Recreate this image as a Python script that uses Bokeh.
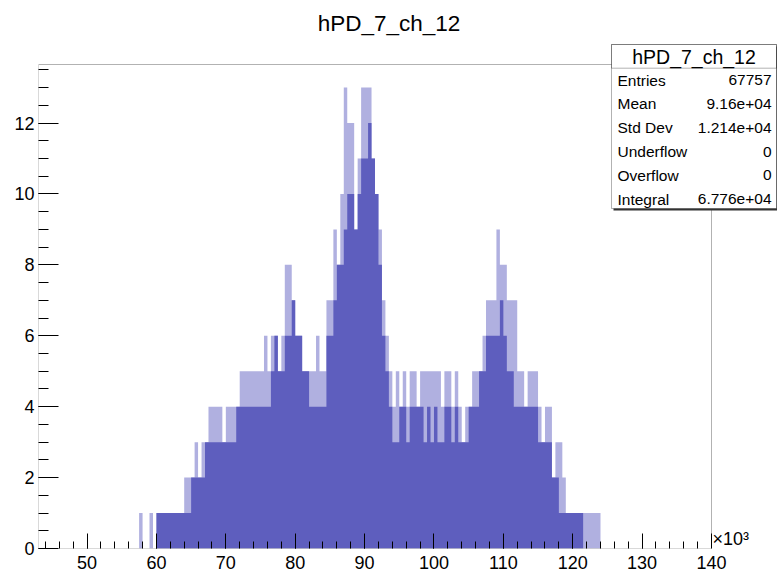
from bokeh.plotting import figure
from bokeh.models import Range1d, FixedTicker, Label, BoxAnnotation
from bokeh.embed import file_html
from bokeh.resources import INLINE

# ---------------- data (x in units of 10^3) ----------------
bin_left_k = [
    57.5, 58.0, 58.5, 59.0, 59.5, 60.0, 60.5, 61.0, 61.5, 62.0,
    62.5, 63.0, 63.5, 64.0, 64.5, 65.0, 65.5, 66.0, 66.5, 67.0,
    67.5, 68.0, 68.5, 69.0, 69.5, 70.0, 70.5, 71.0, 71.5, 72.0,
    72.5, 73.0, 73.5, 74.0, 74.5, 75.0, 75.5, 76.0, 76.5, 77.0,
    77.5, 78.0, 78.5, 79.0, 79.5, 80.0, 80.5, 81.0, 81.5, 82.0,
    82.5, 83.0, 83.5, 84.0, 84.5, 85.0, 85.5, 86.0, 86.5, 87.0,
    87.5, 88.0, 88.5, 89.0, 89.5, 90.0, 90.5, 91.0, 91.5, 92.0,
    92.5, 93.0, 93.5, 94.0, 94.5, 95.0, 95.5, 96.0, 96.5, 97.0,
    97.5, 98.0, 98.5, 99.0, 99.5, 100.0, 100.5, 101.0, 101.5, 102.0,
    102.5, 103.0, 103.5, 104.0, 104.5, 105.0, 105.5, 106.0, 106.5, 107.0,
    107.5, 108.0, 108.5, 109.0, 109.5, 110.0, 110.5, 111.0, 111.5, 112.0,
    112.5, 113.0, 113.5, 114.0, 114.5, 115.0, 115.5, 116.0, 116.5, 117.0,
    117.5, 118.0, 118.5, 119.0, 119.5, 120.0, 120.5, 121.0, 121.5, 122.0,
    122.5, 123.0, 123.5,
]
end_edge_k = 124.0

# counts reached by most bins inside each 0.5k slice (dense fill)
solid_counts = [
    0, 0, 0, 0, 0, 1, 1, 1, 1, 1,
    1, 1, 1, 1, 1, 2, 2, 2, 2, 3,
    3, 3, 3, 3, 3, 3, 3, 3, 4, 4,
    4, 4, 4, 4, 4, 4, 4, 4, 5, 6,
    5, 5, 6, 6, 7, 6, 6, 5, 5, 4,
    4, 4, 4, 4, 6, 6, 7, 8, 8, 9,
    10, 10, 9, 10, 11, 11, 12, 11, 10, 8,
    6, 5, 4, 3, 3, 4, 4, 3, 4, 4,
    4, 4, 3, 4, 3, 4, 3, 3, 4, 4,
    3, 4, 3, 3, 3, 4, 4, 4, 5, 5,
    6, 6, 6, 6, 7, 6, 5, 5, 4, 4,
    4, 4, 4, 4, 4, 3, 3, 3, 3, 2,
    2, 1, 1, 1, 1, 1, 1, 1, 0, 0,
    0, 0, 0,
]
# highest single-bin count inside each 0.5k slice (sparse spikes)
peak_counts = [
    1, 0, 0, 1, 0, 1, 1, 1, 1, 1,
    1, 1, 1, 2, 2, 2, 3, 2, 3, 3,
    4, 4, 4, 4, 3, 4, 4, 4, 4, 5,
    5, 5, 5, 5, 5, 5, 6, 5, 6, 6,
    5, 6, 8, 8, 7, 6, 6, 5, 5, 5,
    5, 6, 5, 5, 7, 7, 9, 8, 10, 13,
    12, 12, 9, 11, 13, 13, 13, 11, 10, 9,
    7, 6, 5, 4, 5, 4, 5, 4, 5, 5,
    4, 5, 5, 5, 5, 5, 5, 4, 5, 5,
    4, 5, 4, 3, 4, 4, 5, 5, 5, 6,
    7, 7, 7, 9, 8, 8, 7, 7, 7, 5,
    5, 4, 5, 5, 5, 4, 3, 4, 4, 2,
    3, 3, 2, 1, 1, 1, 1, 1, 1, 1,
    1, 1, 1,
]

x_major_ticks = [50, 60, 70, 80, 90, 100, 110, 120, 130, 140]
x_minor_ticks = [44 + 2 * i for i in range(48)]
y_major_ticks = [0, 2, 4, 6, 8, 10, 12]
y_minor_ticks = [0.5 * i for i in range(28)]

X_MIN, X_MAX = 43.0, 140.0     # histogram axis range (x10^3)
Y_MIN, Y_MAX = 0.0, 13.65

hist_title = "hPD_7_ch_12"
stat_names = ["Entries", "Mean", "Std Dev", "Underflow", "Overflow", "Integral"]
stat_values = ["67757", "9.16e+04", "1.214e+04", "0", "0", "6.776e+04"]

FONT = "Liberation Sans"

# ---------------- layout geometry (canvas pixels) ----------------
W, H = 777, 573
FL, FR, FT, FB = 38, 711, 64, 548          # histogram frame edges
kx = (FR - FL) / (X_MAX - X_MIN)             # px per x unit
ky = (FB - FT) / (Y_MAX - Y_MIN)             # px per y unit
# Bokeh frame spans the canvas from FL to the right edge and from top to FB,
# so that the title / stats box can be drawn without clipping.
x_end = X_MAX + (W - FR) / kx
y_end = Y_MAX + FT / ky

p = figure(width=W, height=H, output_backend="svg", toolbar_location=None,
           x_range=Range1d(X_MIN, x_end), y_range=Range1d(Y_MIN, y_end),
           min_border_left=FL, min_border_right=0,
           min_border_top=0, min_border_bottom=H - FB)
p.background_fill_color = "white"
p.border_fill_color = "white"
p.outline_line_color = None
p.xgrid.grid_line_color = None
p.ygrid.grid_line_color = None

xs = bin_left_k + [end_edge_k]
p.varea_step(x=xs, y1=[0] * len(xs), y2=peak_counts + [0], step_mode="after",
             fill_color="#b0b0e0", fill_alpha=1.0)
p.varea_step(x=xs, y1=[0] * len(xs), y2=solid_counts + [0], step_mode="after",
             fill_color="#5e5ebe", fill_alpha=1.0)

# histogram frame
p.add_layout(BoxAnnotation(left=X_MIN, right=X_MAX, bottom=Y_MIN, top=Y_MAX,
                           fill_alpha=0.0, line_color="black", line_width=1))

for ax in (p.xaxis[0], p.yaxis[0]):
    ax.axis_line_color = None
    ax.major_tick_line_color = "black"
    ax.minor_tick_line_color = "black"
    ax.major_tick_out = 0
    ax.minor_tick_out = 0
    ax.major_label_text_font = FONT
    ax.major_label_text_font_size = "18px"
    ax.major_label_text_color = "black"

p.xaxis.ticker = FixedTicker(ticks=x_major_ticks, minor_ticks=x_minor_ticks)
p.xaxis.major_tick_in = 15
p.xaxis.minor_tick_in = 7
p.xaxis.major_label_standoff = 7

p.yaxis.ticker = FixedTicker(ticks=y_major_ticks, minor_ticks=y_minor_ticks)
p.yaxis.major_tick_in = 20
p.yaxis.minor_tick_in = 10
p.yaxis.major_label_standoff = 4

# frame-relative screen coordinates helpers
def sx(cx):
    return cx - FL

def sy(cy):
    return FB - cy

# main title
p.add_layout(Label(x=sx(388.5), y=sy(23), x_units="screen", y_units="screen",
                   text=hist_title, text_font=FONT, text_font_size="22.5px",
                   text_align="center", text_baseline="middle", text_color="black"))

# x10^3 exponent (kept just above the frame bottom so it is not clipped)
p.add_layout(Label(x=sx(712), y=sy(538), x_units="screen", y_units="screen",
                   text="×10³", text_font=FONT, text_font_size="18px",
                   text_align="left", text_baseline="middle", text_color="black"))

# stats box (shadow + box + separator)
BL, BR, BT, BB, SEP = 611, 776, 44, 208, 67.7
p.add_layout(BoxAnnotation(left=sx(BL + 2), right=sx(BR + 2), top=sy(BT + 2), bottom=sy(BB + 2),
                           left_units="screen", right_units="screen",
                           top_units="screen", bottom_units="screen",
                           fill_color="#333333", fill_alpha=1.0, line_color=None))
p.add_layout(BoxAnnotation(left=sx(BL), right=sx(BR), top=sy(BT), bottom=sy(BB),
                           left_units="screen", right_units="screen",
                           top_units="screen", bottom_units="screen",
                           fill_color="white", fill_alpha=1.0,
                           line_color="black", line_width=1))
p.add_layout(BoxAnnotation(left=sx(BL), right=sx(BR), top=sy(BT), bottom=sy(SEP),
                           left_units="screen", right_units="screen",
                           top_units="screen", bottom_units="screen",
                           fill_alpha=0.0, line_color="black", line_width=1))

p.add_layout(Label(x=sx((BL + BR) / 2), y=sy(56), x_units="screen", y_units="screen",
                   text=hist_title, text_font=FONT, text_font_size="19.5px",
                   text_align="center", text_baseline="middle", text_color="black"))

row_y0, row_dy = 79.6, 23.8
for i, (name, val) in enumerate(zip(stat_names, stat_values)):
    cy = row_y0 + i * row_dy
    p.add_layout(Label(x=sx(617), y=sy(cy), x_units="screen", y_units="screen",
                       text=name, text_font=FONT, text_font_size="15.5px",
                       text_align="left", text_baseline="middle", text_color="black"))
    p.add_layout(Label(x=sx(771), y=sy(cy), x_units="screen", y_units="screen",
                       text=val, text_font=FONT, text_font_size="15.5px",
                       text_align="right", text_baseline="middle", text_color="black"))

open("out.html", "w").write(file_html(p, INLINE))
